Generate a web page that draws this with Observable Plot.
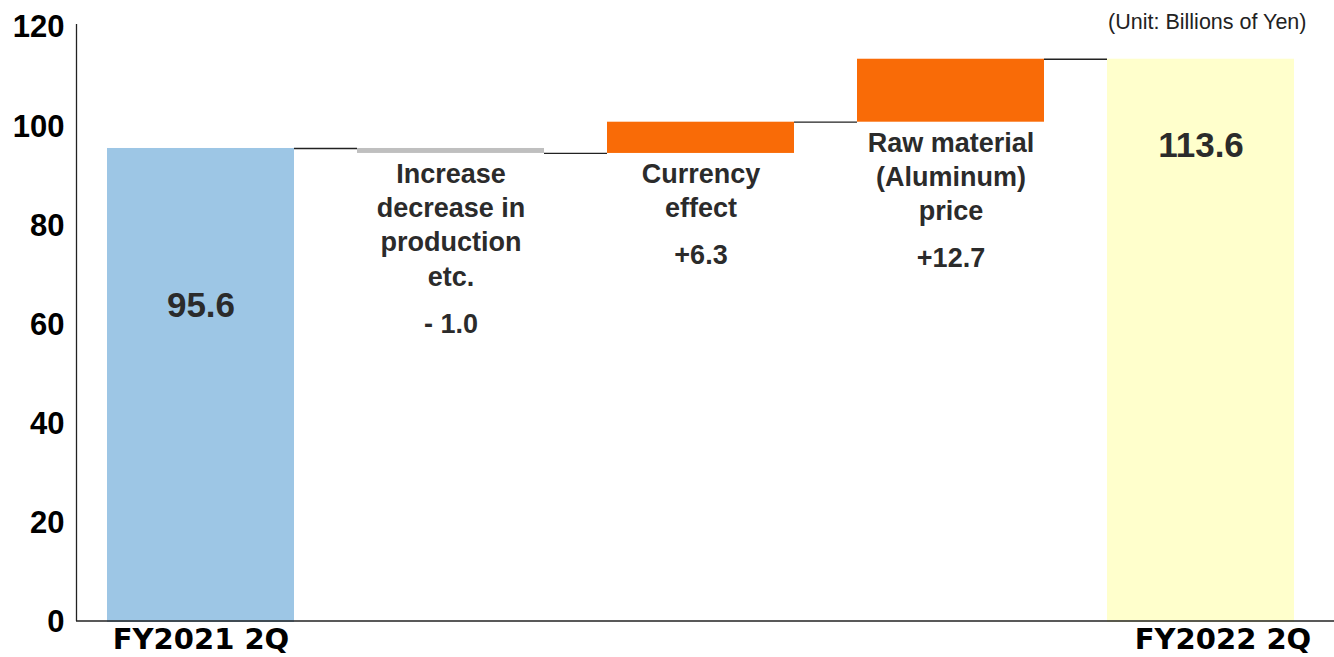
<!DOCTYPE html>
<html>
<head>
<meta charset="utf-8">
<script src="https://cdn.jsdelivr.net/npm/d3@7"></script>
<script src="https://cdn.jsdelivr.net/npm/@observablehq/plot@0.6"></script>
<style>
  html, body { margin: 0; padding: 0; background: #fff; }
  #chart { width: 1334px; height: 657px; }
</style>
</head>
<body>
<div id="chart"></div>
<script>
// Operating revenue bridge, FY2021 2Q → FY2022 2Q (billions of yen)
const categories = [
  "FY2021 2Q",
  "Increase\ndecrease in\nproduction\netc.",
  "Currency\neffect",
  "Raw material\n(Aluminum)\nprice",
  "FY2022 2Q"
];
const startValue = 95.6;
const changes = [-1.0, 6.3, 12.7];
const changeLabels = ["- 1.0", "+6.3", "+12.7"];
const endValue = 113.6;
const yTicks = [0, 20, 40, 60, 80, 100, 120];
const unitNote = "(Unit: Billions of Yen)";

const COLORS = { start: "#9dc6e5", down: "#bfbfbf", up: "#f96b07", end: "#ffffcc" };
const TEXT = "#2b2b2b";
const HALF = 0.374;               // half bar width in category units
const xDomain = [-0.498, 4.534];

// Build the waterfall segments
const rows = [];
rows.push({i: 0, y1: 0, y2: startValue, color: COLORS.start});
let level = startValue;
const links = [{i: 0, level}];
changes.forEach((c, k) => {
  const next = Math.round((level + c) * 10) / 10;
  rows.push({i: k + 1, y1: level, y2: next, color: c < 0 ? COLORS.down : COLORS.up,
             label: categories[k + 1], delta: changeLabels[k]});
  level = next;
  links.push({i: k + 1, level});
});
rows.push({i: 4, y1: 0, y2: endValue, color: COLORS.end});
const steps = rows.filter(d => d.label);

const axisFont = {fontFamily: "'DejaVu Sans', sans-serif", fontSize: 29, fontWeight: "bold", fill: "#000"};
const stepFont = {fontSize: 27, fontWeight: "bold", fill: TEXT, lineAnchor: "top", lineHeight: 1.27};

const chart = Plot.plot({
  width: 1334,
  height: 657,
  marginLeft: 76,
  marginRight: 0,
  marginTop: 27,
  marginBottom: 35,
  style: { fontFamily: "'Liberation Sans', Arial, sans-serif", background: "#fff" },
  x: { type: "linear", domain: xDomain, axis: null },
  y: { domain: [0, 120], axis: null },
  color: { type: "identity" },
  marks: [
    Plot.rect(rows, {x1: d => d.i - HALF, x2: d => d.i + HALF, y1: "y1", y2: "y2", fill: "color"}),
    Plot.ruleY(links, {x1: d => d.i + HALF, x2: d => d.i + 1 - HALF, y: "level", stroke: "#222", strokeWidth: 1.3}),
    // axes
    Plot.ruleX([xDomain[0]], {stroke: "#222", strokeWidth: 1.3, insetTop: -3, insetBottom: 1}),
    Plot.ruleY([0], {stroke: "#222", strokeWidth: 1.5, dy: -1.5}),
    Plot.axisY({ticks: yTicks, tickSize: 0, tickPadding: 12, fontSize: 31, fontWeight: "bold", fill: "#000", label: null}),
    Plot.axisX({ticks: [0], tickFormat: i => categories[i], tickSize: 0, tickPadding: 6, ...axisFont, label: null}),
    Plot.axisX({ticks: [4], tickFormat: i => categories[i], tickSize: 0, tickPadding: 6, dx: 22, ...axisFont, label: null}),
    // totals
    Plot.text([rows[0]], {x: "i", y: "y2", text: d => d.y2.toFixed(1), dy: 157,
      fontSize: 35, fontWeight: "bold", fill: TEXT}),
    Plot.text([rows[4]], {x: "i", y: "y2", text: d => d.y2.toFixed(1), dy: 87,
      fontSize: 35, fontWeight: "bold", fill: TEXT}),
    // step names and their amounts below each floating bar
    Plot.text(steps, {x: "i", y: d => Math.min(d.y1, d.y2), text: "label", dy: 5, ...stepFont}),
    Plot.text(steps, {x: "i", y: d => Math.min(d.y1, d.y2),
      text: d => "\n".repeat(d.label.split("\n").length) + d.delta, dy: 18, ...stepFont}),
    // unit note
    Plot.text([unitNote], {frameAnchor: "top-right", textAnchor: "end", lineAnchor: "middle",
      dx: -28, dy: -5, fontSize: 21.5, fill: "#222"})
  ]
});
document.getElementById("chart").appendChild(chart);
</script>
</body>
</html>
